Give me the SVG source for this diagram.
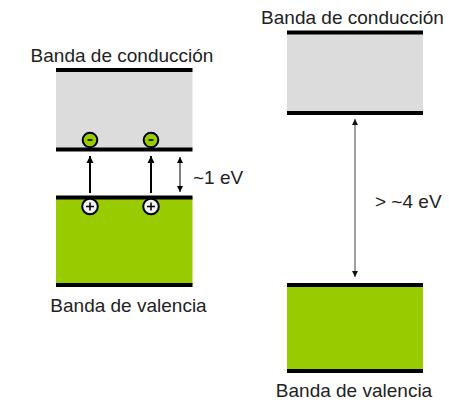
<svg xmlns="http://www.w3.org/2000/svg" width="449" height="402" viewBox="0 0 449 402">
<defs>
<style>
.lbl{font-family:"Liberation Sans",Arial,sans-serif;font-size:19px;fill:#222}
.bar{stroke:#000;stroke-width:4}
.gray{fill:#dcdcdc}
.green{fill:#99cc00}
.eminus{fill:#99cc00;stroke:#000;stroke-width:2}
.hplus{fill:#f2f2f2;stroke:#000;stroke-width:2}
.sign{stroke:#000;stroke-width:1.5}
</style>
<marker id="ahBlack" viewBox="0 0 10 10" refX="10" refY="5" markerWidth="7" markerHeight="8" markerUnits="userSpaceOnUse" orient="auto-start-reverse">
<path d="M0,0 L10,5 L0,10 Z" fill="#000"/>
</marker>
<marker id="ahSmall" viewBox="0 0 10 10" refX="10" refY="5" markerWidth="6" markerHeight="6" markerUnits="userSpaceOnUse" orient="auto-start-reverse">
<path d="M0,0 L10,5 L0,10 Z" fill="#000"/>
</marker>
<marker id="ahGray" viewBox="0 0 10 10" refX="10" refY="5" markerWidth="6" markerHeight="6" markerUnits="userSpaceOnUse" orient="auto-start-reverse">
<path d="M0,0 L10,5 L0,10 Z" fill="#111"/>
</marker>
</defs>
<rect width="449" height="402" fill="#fff"/>

<g id="left-conduction">
<rect class="gray" x="56" y="70" width="136.5" height="79.5"/>
<line class="bar" x1="56" y1="70" x2="192.5" y2="70"/>
<line class="bar" x1="56" y1="149.5" x2="192.5" y2="149.5"/>
<text class="lbl" x="122" y="62" text-anchor="middle">Banda de conducción</text>
</g>

<g id="left-valence">
<rect class="green" x="56" y="197.5" width="136.5" height="87.5"/>
<line class="bar" x1="56" y1="197.5" x2="192.5" y2="197.5"/>
<line class="bar" x1="56" y1="285" x2="192.5" y2="285"/>
<text class="lbl" x="128.5" y="312" text-anchor="middle">Banda de valencia</text>
</g>

<g id="electron-1">
<circle class="eminus" cx="90" cy="140" r="7.3"/>
<line class="sign" x1="87.5" y1="140" x2="92.5" y2="140"/>
</g>
<g id="electron-2">
<circle class="eminus" cx="151" cy="140" r="7.3"/>
<line class="sign" x1="148.5" y1="140" x2="153.5" y2="140"/>
</g>
<g id="hole-1">
<circle class="hplus" cx="90" cy="206.5" r="7.8"/>
<path class="sign" d="M86,206.5 H94 M90,202.5 V210.5"/>
</g>
<g id="hole-2">
<circle class="hplus" cx="151" cy="206.5" r="7.8"/>
<path class="sign" d="M147,206.5 H155 M151,202.5 V210.5"/>
</g>

<g id="right-conduction">
<rect class="gray" x="287" y="32.5" width="136" height="80.5"/>
<line class="bar" x1="287" y1="32.5" x2="423" y2="32.5"/>
<line class="bar" x1="287" y1="113" x2="423" y2="113"/>
<text class="lbl" x="352.5" y="24" text-anchor="middle">Banda de conducción</text>
</g>

<g id="right-valence">
<rect class="green" x="287" y="285" width="136" height="86"/>
<line class="bar" x1="287" y1="285" x2="423" y2="285"/>
<line class="bar" x1="287" y1="371" x2="423" y2="371"/>
<text class="lbl" x="354" y="397" text-anchor="middle">Banda de valencia</text>
</g>

<g id="connectors">
<line x1="90" y1="193" x2="90" y2="156" stroke="#000" stroke-width="2" marker-end="url(#ahBlack)"/>
<line x1="151" y1="193" x2="151" y2="156" stroke="#000" stroke-width="2" marker-end="url(#ahBlack)"/>
<line x1="180" y1="157" x2="180" y2="192" stroke="#000" stroke-width="1" marker-start="url(#ahSmall)" marker-end="url(#ahSmall)"/>
<line x1="355" y1="119" x2="355" y2="277" stroke="#808080" stroke-width="1.5" marker-start="url(#ahGray)" marker-end="url(#ahGray)"/>
<text class="lbl" x="193" y="184">~1 eV</text>
<text class="lbl" x="375" y="208">&gt; ~4 eV</text>
</g>
</svg>
